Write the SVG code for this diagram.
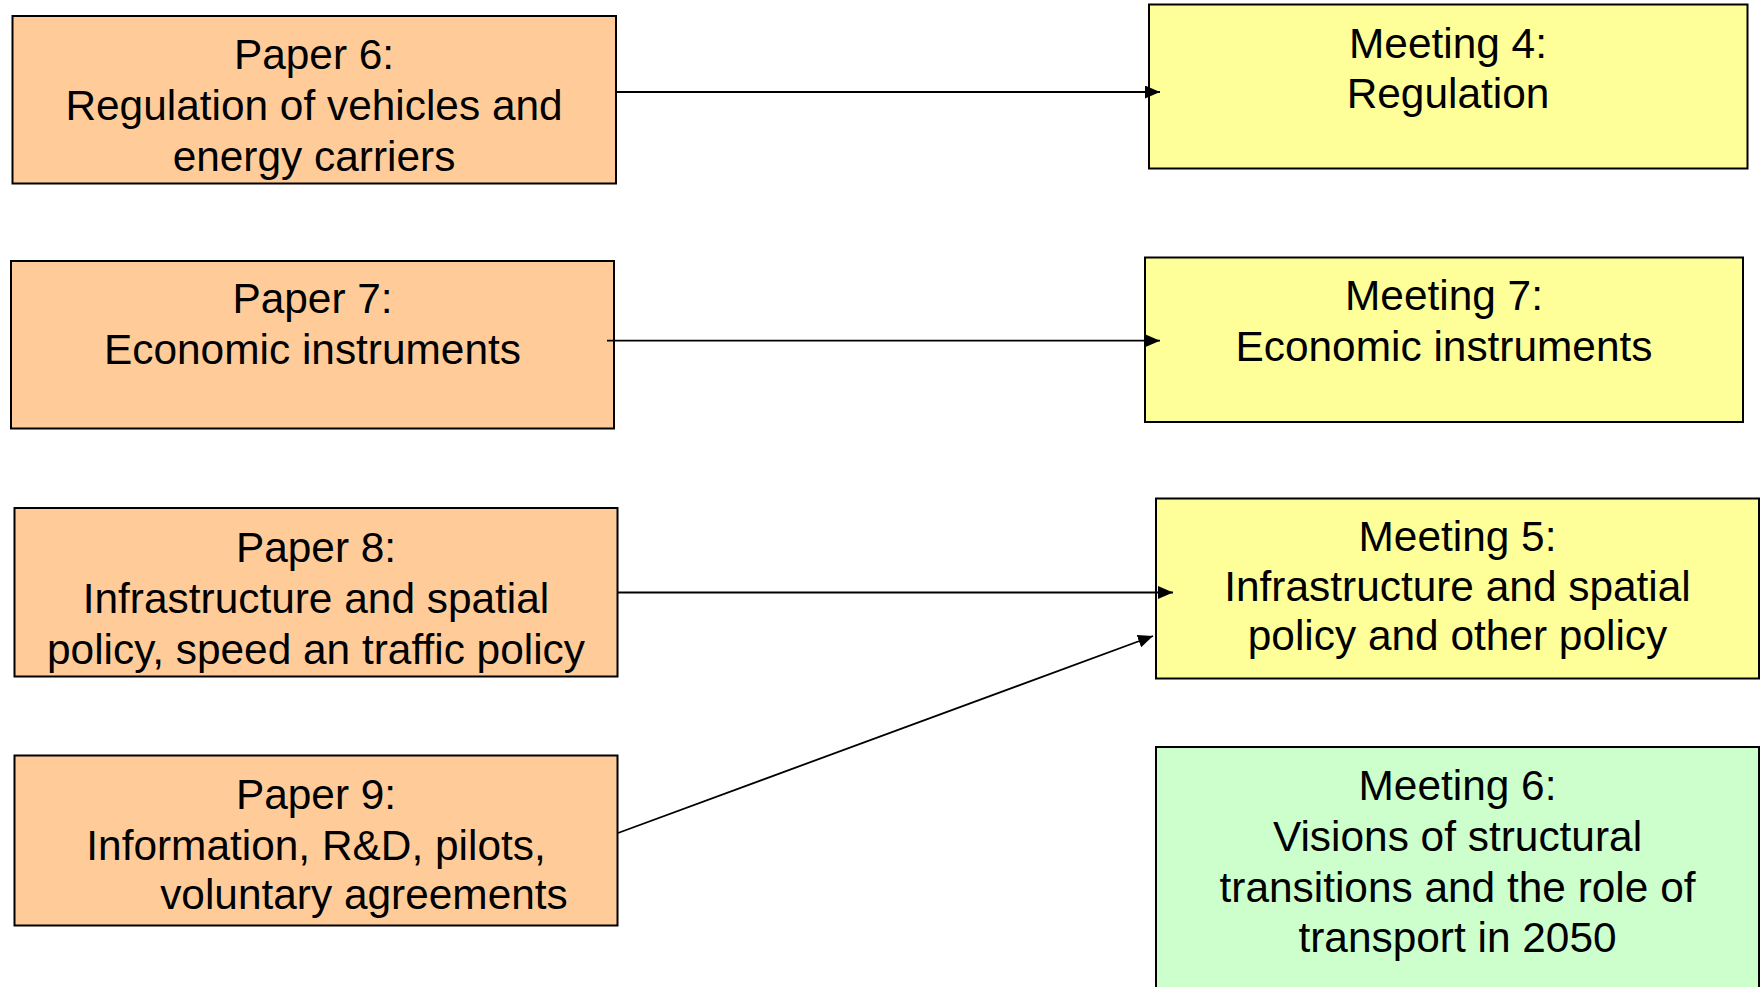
<svg xmlns="http://www.w3.org/2000/svg" width="1763" height="987" viewBox="0 0 1763 987">
<style>
.box{stroke:#000;stroke-width:2}
.paper{fill:#FFCC99}
.meet{fill:#FFFF99}
.vis{fill:#CCFFCC}
text{font-family:"Liberation Sans",Arial,sans-serif;font-size:42.4px;fill:#000;text-anchor:middle}
.conn{stroke:#000;stroke-width:1.8;fill:none;marker-end:url(#arr)}
</style>
<defs>
<marker id="arr" markerUnits="userSpaceOnUse" markerWidth="15" markerHeight="13" refX="15" refY="6.5" orient="auto">
<path d="M0,0 L15,6.5 L0,13 z" fill="#000"/>
</marker>
</defs>
<rect width="1763" height="987" fill="#fff"/>
<g id="paper6">
<rect class="box paper" x="12.5" y="16" width="603.5" height="167.5"/>
<text x="314" y="68.5">Paper 6:</text>
<text x="314" y="119.5">Regulation of vehicles and</text>
<text x="314" y="170.5">energy carriers</text>
</g>
<g id="paper7">
<rect class="box paper" x="11" y="261" width="603" height="167.5"/>
<text x="312.5" y="313">Paper 7:</text>
<text x="312.5" y="364">Economic instruments</text>
</g>
<g id="paper8">
<rect class="box paper" x="14.5" y="508" width="603" height="168.5"/>
<text x="316" y="561.5">Paper 8:</text>
<text x="316" y="612.5">Infrastructure and spatial</text>
<text x="316" y="663.5">policy, speed an traffic policy</text>
</g>
<g id="paper9">
<rect class="box paper" x="14.5" y="755.5" width="603" height="170"/>
<text x="316" y="808.5">Paper 9:</text>
<text x="316" y="859.5">Information, R&amp;D, pilots,</text>
<text x="364" y="909">voluntary agreements</text>
</g>
<g id="meeting4">
<rect class="box meet" x="1149" y="4.5" width="598.5" height="164"/>
<text x="1448" y="57.5">Meeting 4:</text>
<text x="1448" y="108">Regulation</text>
</g>
<g id="meeting7">
<rect class="box meet" x="1145" y="257.5" width="598" height="164.5"/>
<text x="1444" y="309.5">Meeting 7:</text>
<text x="1444" y="360.5">Economic instruments</text>
</g>
<g id="meeting5">
<rect class="box meet" x="1156" y="498.5" width="603" height="180"/>
<text x="1457.5" y="550.5">Meeting 5:</text>
<text x="1457.5" y="601">Infrastructure and spatial</text>
<text x="1457.5" y="650">policy and other policy</text>
</g>
<g id="meeting6">
<rect class="box vis" x="1156" y="747" width="603" height="260"/>
<text x="1457.5" y="800">Meeting 6:</text>
<text x="1457.5" y="850.5">Visions of structural</text>
<text x="1457.5" y="901.5">transitions and the role of</text>
<text x="1457.5" y="952">transport in 2050</text>
</g>
<g id="connectors">
<line class="conn" x1="616" y1="92" x2="1160" y2="92"/>
<line class="conn" x1="607" y1="340.7" x2="1160" y2="340.7"/>
<line class="conn" x1="617.5" y1="592.5" x2="1173" y2="592.5"/>
<line class="conn" x1="618" y1="833" x2="1153" y2="636"/>
</g>
</svg>
